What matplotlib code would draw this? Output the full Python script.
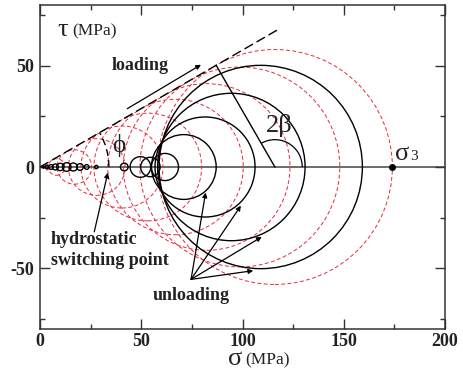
import numpy as np
import matplotlib
matplotlib.use("Agg")
import matplotlib.pyplot as plt
from matplotlib.patches import Circle, Arc

plt.rcParams["font.family"] = ["Liberation Serif", "DejaVu Serif"]
plt.rcParams["axes.unicode_minus"] = False

# friction angle of the loading line (deg)
phi_deg = 30.0
line_end_x = 117.5

# loading (red dashed) Mohr circles: centres, radius = centre * sin(phi)
red_centers = [3.0, 8.2, 17.0, 28.0, 40.5, 53.2, 66.9, 82.3, 98.7, 116.0]

# unloading / small (black) Mohr circles
black_centers = [1.65, 3.29, 5.43, 7.57, 10.04, 13.17, 16.46, 19.75, 23.05, 27.82,
                 41.6, 49.6, 54.5, 61.7, 71.0, 81.5, 94.5, 109.0]
black_radii = [0.5, 0.82, 1.15, 1.48, 1.81, 2.14, 1.98, 1.65, 1.15, 0.82,
               1.9, 5.1, 4.8, 6.7, 16.0, 24.7, 36.4, 50.2]

sigma3 = 174.0

# unloading arrows: common tail, heads on the unloading circles
unload_tail = (74.6, -55.5)
unload_heads_x = [81.8, 99.2, 109.5, 105.3]
unload_heads_y = [-12.6, -19.1, -34.5, -51.2]

# loading arrow
load_start = (43.1, 28.8)
load_end = (79.5, 50.5)

# hydrostatic switching point arrow
hydro_tail = (26.8, -32.0)
hydro_head = (33.5, -2.8)

fig = plt.figure(figsize=(4.63, 3.75), dpi=100)
ax = fig.add_axes([40 / 463, 1 - 329 / 375, 405 / 463, 324 / 375])
ax.set_xlim(0, 200)
ax.set_ylim(-80, 80)

red = "#e8283c"
sphi = np.sin(np.radians(phi_deg))
for c in red_centers:
    ax.add_patch(Circle((c, 0), c * sphi, fill=False, ec=red, lw=0.7,
                        ls=(0, (4, 2.5)), zorder=2))

for c, r in zip(black_centers, black_radii):
    ax.add_patch(Circle((c, 0), r, fill=False, ec="black", lw=1.0, zorder=3))

# sigma axis
ax.axhline(0, color="#444444", lw=1.1, zorder=1)

# loading line
xs = np.array([0, line_end_x])
ax.plot(xs, xs * np.tan(np.radians(phi_deg)), color="black", lw=1.0,
        ls=(0, (7, 3)), zorder=4)

# phi arc
ax.add_patch(Arc((0, 0), 68, 68, theta1=0, theta2=phi_deg,
                 color="black", lw=1.0, ls=(0, (5, 3)), zorder=4))

# 2 beta radius and arc on the largest loading circle
cmax = red_centers[-1]
tx = cmax * np.cos(np.radians(phi_deg)) ** 2
ty = cmax * np.cos(np.radians(phi_deg)) * sphi
ax.plot([cmax, tx], [0, ty], color="black", lw=1.0, zorder=4)
ax.add_patch(Arc((cmax, 0), 27, 27, theta1=0, theta2=90 + phi_deg,
                 color="black", lw=0.9, zorder=4))

ax.plot([sigma3], [0], "o", color="black", ms=4, zorder=5)

arrow_kw = dict(arrowstyle="-|>", color="black", lw=0.9, mutation_scale=7,
                shrinkA=0, shrinkB=0)
ax.annotate("", xy=load_end, xytext=load_start, arrowprops=arrow_kw)
ax.annotate("", xy=hydro_head, xytext=hydro_tail, arrowprops=arrow_kw)
for hx, hy in zip(unload_heads_x, unload_heads_y):
    ax.annotate("", xy=(hx, hy), xytext=unload_tail, arrowprops=arrow_kw)

bold = dict(fontsize=13, fontweight="bold", color="#222222")
ax.text(49.4, 47.7, "loading", ha="center", va="baseline", **bold)
ax.text(5.3, -37.8, "hydrostatic", ha="left", va="baseline", **bold)
ax.text(5.3, -48.5, "switching point", ha="left", va="baseline", **bold)
ax.text(55.6, -65.5, "unloading", ha="left", va="baseline", **bold)

ax.text(38.7, 10.4, "ϕ", ha="center", va="center", fontsize=18, color="#222222")
ax.text(118.0, 20.3, "2β", ha="center", va="center", fontsize=19, color="#222222")
ax.text(175.3, 3.5, "σ", ha="left", va="baseline", fontsize=19, color="#222222")
ax.text(183.0, 3.5, "3", ha="left", va="baseline", fontsize=11, color="#222222")

ax.text(8.4, 64.9, "τ", ha="left", va="baseline", fontsize=19, color="#222222")
ax.text(15.8, 64.9, "(MPa)", ha="left", va="baseline", fontsize=12.5, color="#222222")

fig.text(228 / 463, 1 - 365 / 375, "σ", ha="left", va="baseline", fontsize=19,
         color="#222222")
fig.text(245 / 463, 1 - 364 / 375, "(MPa)", ha="left", va="baseline", fontsize=12.5,
         color="#222222")

ax.set_xticks([0, 50, 100, 150, 200])
ax.set_xticks([25, 75, 125, 175], minor=True)
ax.set_yticks([-50, 0, 50])
ax.set_yticks([-75, -25, 25, 75], minor=True)
ax.tick_params(which="both", direction="in", top=True, right=True, width=1.0,
               color="#333333")
ax.tick_params(which="major", length=7)
ax.tick_params(which="minor", length=3.5)
ax.tick_params(axis="x", pad=3)
ax.tick_params(axis="y", pad=4.5)
for lab in ax.get_xticklabels() + ax.get_yticklabels():
    lab.set_fontsize(13)
    lab.set_fontweight("bold")
    lab.set_color("#222222")
for s in ax.spines.values():
    s.set_linewidth(1.1)
    s.set_color("#333333")

fig.savefig("out.png", dpi=100)
